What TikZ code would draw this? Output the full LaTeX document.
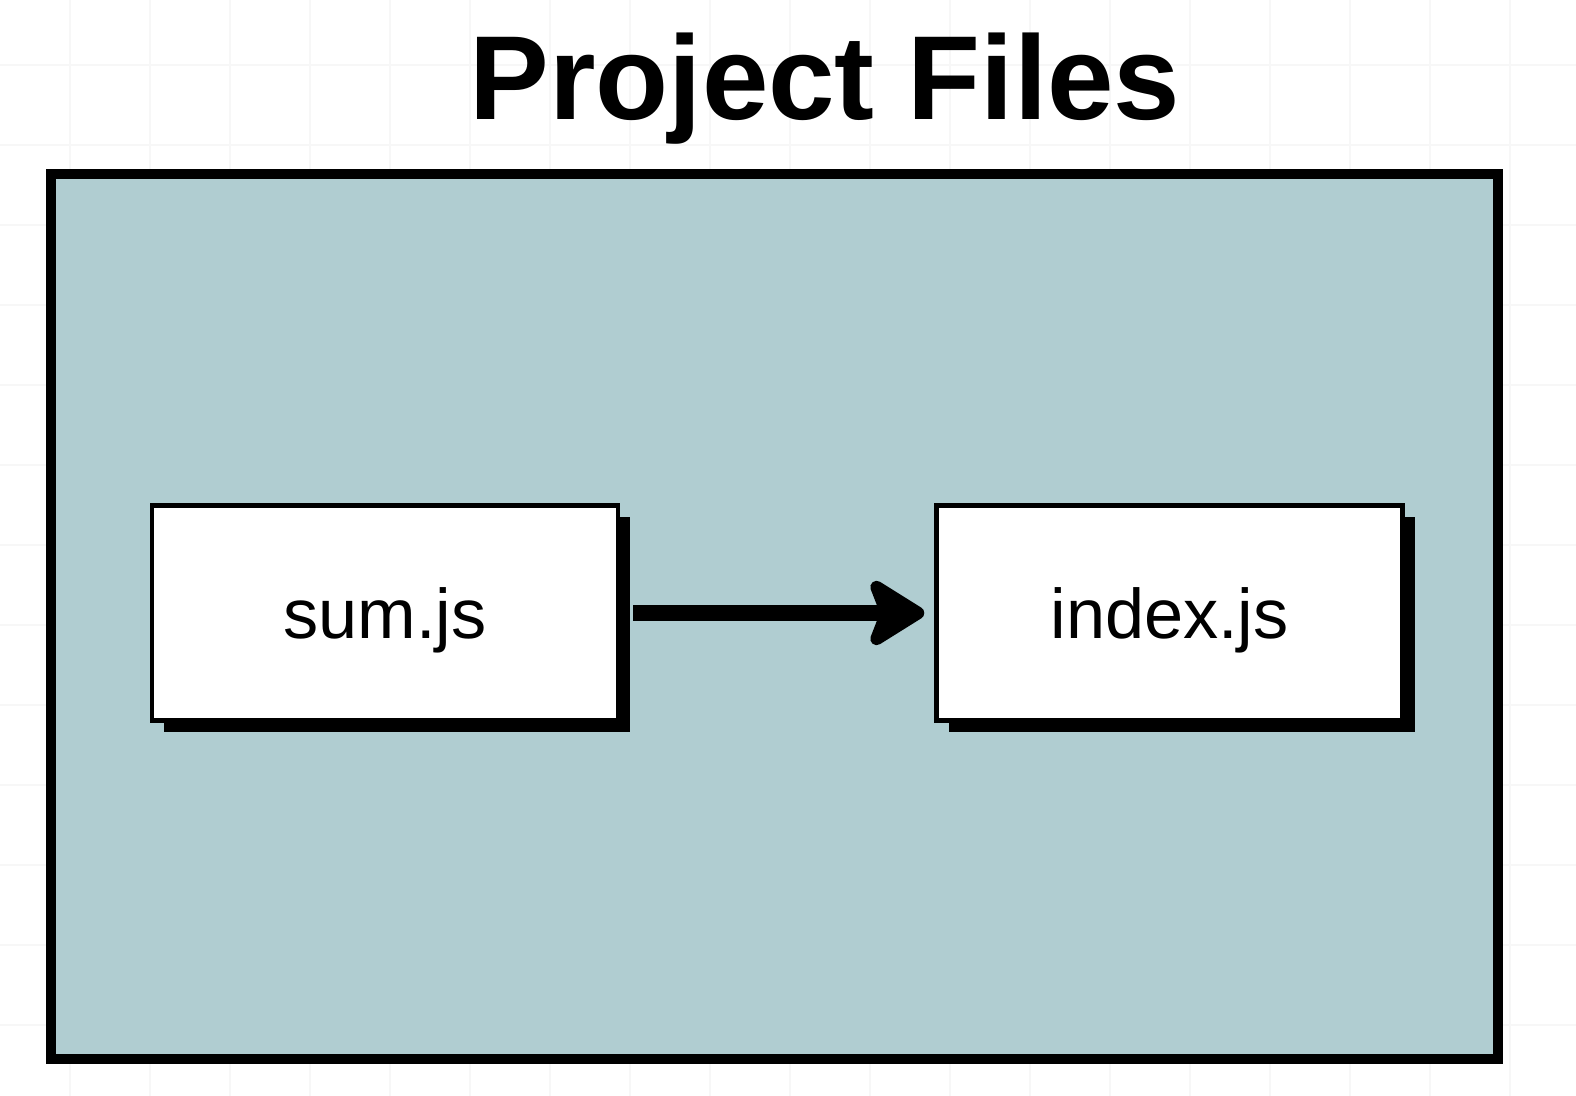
\documentclass[tikz,border=0pt]{standalone}
\usepackage{fontspec}
\setmainfont{Liberation Sans}
\usetikzlibrary{positioning,arrows.meta,shadows}

\definecolor{framefill}{HTML}{B0CDD1}

\begin{document}
\begin{tikzpicture}[
    node distance=4.3cm and 6.28cm,
    gridline/.style={black!3, line width=0.6pt},
    frame/.style={draw, rectangle, line width=5.5pt, fill=framefill, minimum width=28.94cm, minimum height=17.7cm},
    filebox/.style={draw, rectangle, line width=2.6pt, fill=white, minimum width=9.32cm, minimum height=4.3cm, text depth=0pt, font=\fontsize{40}{48}\selectfont, drop shadow={shadow xshift=0.24cm, shadow yshift=-0.24cm, opacity=1, fill=black}},
    arrow/.style={-{Stealth[length=1.3cm, width=1.6cm, inset=0.3cm, round]}, line width=9pt}
]
\useasboundingbox (0,0) rectangle (31.52,21.92);

% Fond quadrillé
\draw[gridline, xshift=1.4cm, yshift=1.42cm] (-1.4,-1.42) grid[step=1.6cm] (30.12,20.5);

% Cadre et titre
\node[frame] (cadre) at (15.49,9.59) {};
\node[font=\bfseries\fontsize{68}{80}\selectfont, anchor=base] (titre) at (16.5,19.52) {Project Files};

% Fichiers
\node[filebox] (sum) at (7.7,9.66) {sum.js};
\node[filebox, right=of sum] (index) {index.js};

\draw[arrow] ([xshift=0.26cm]sum.east) -- ([xshift=-0.2cm]index.west);

\end{tikzpicture}
\end{document}
